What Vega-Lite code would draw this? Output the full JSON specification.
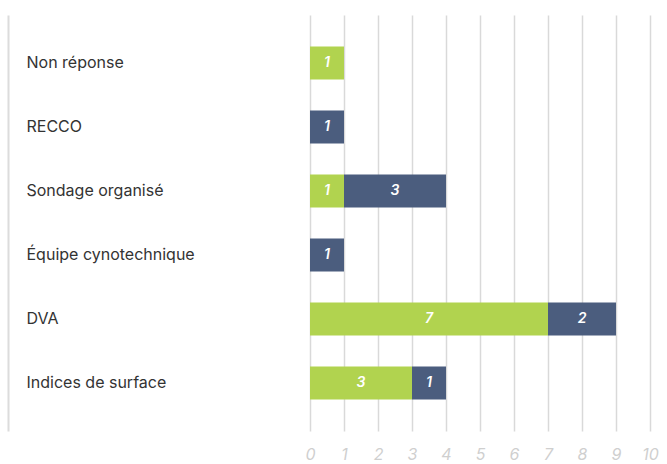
{
  "$schema": "https://vega.github.io/schema/vega-lite/v6.json",
  "width": 340,
  "height": 416,
  "autosize": {"type": "none"},
  "padding": {"left": 310, "top": 15, "right": 17, "bottom": 33},
  "background": "white",
  "config": {"view": {"stroke": null}, "font": "Inter"},
  "data": {
    "values": [
      {"category": "Non réponse", "series": "A", "rank": 1, "count": 1},
      {"category": "RECCO", "series": "B", "rank": 2, "count": 1},
      {"category": "Sondage organisé", "series": "A", "rank": 1, "count": 1},
      {"category": "Sondage organisé", "series": "B", "rank": 2, "count": 3},
      {"category": "Équipe cynotechnique", "series": "B", "rank": 2, "count": 1},
      {"category": "DVA", "series": "A", "rank": 1, "count": 7},
      {"category": "DVA", "series": "B", "rank": 2, "count": 2},
      {"category": "Indices de surface", "series": "A", "rank": 1, "count": 3},
      {"category": "Indices de surface", "series": "B", "rank": 2, "count": 1}
    ]
  },
  "encoding": {
    "y": {
      "field": "category",
      "type": "nominal",
      "sort": null,
      "title": null,
      "scale": {"paddingInner": 0.484, "paddingOuter": 0.49},
      "axis": {
        "offset": 302,
        "ticks": false,
        "tickSize": 0,
        "labelAlign": "left",
        "labelPadding": -18,
        "labelFontSize": 16,
        "labelColor": "#333333",
        "labelFont": "Inter",
        "domainColor": "#dcdcdc",
        "domainWidth": 2,
        "grid": false
      }
    },
    "x": {
      "field": "count",
      "type": "quantitative",
      "stack": "zero",
      "title": null,
      "scale": {"domain": [0, 10], "nice": false},
      "axis": {
        "values": [0, 1, 2, 3, 4, 5, 6, 7, 8, 9, 10],
        "domain": false,
        "ticks": false,
        "grid": true,
        "gridColor": "#d9d9d9",
        "gridWidth": 1.5,
        "labelFlush": false,
        "labelFontSize": 16,
        "labelFontStyle": "italic",
        "labelColor": "#cfcfcf",
        "labelPadding": 15,
        "labelFont": "Inter"
      }
    },
    "order": {"field": "rank", "type": "quantitative"}
  },
  "layer": [
    {
      "mark": {"type": "bar"},
      "encoding": {
        "color": {
          "field": "series",
          "type": "nominal",
          "legend": null,
          "scale": {"domain": ["A", "B"], "range": ["#b1d34f", "#4b5d7e"]}
        }
      }
    },
    {
      "mark": {"type": "text", "color": "white", "fontSize": 14, "fontStyle": "italic", "fontWeight": 600, "font": "Inter"},
      "encoding": {
        "x": {"field": "count", "type": "quantitative", "stack": "zero", "bandPosition": 0.5},
        "text": {"field": "count", "type": "quantitative"}
      }
    }
  ]
}
